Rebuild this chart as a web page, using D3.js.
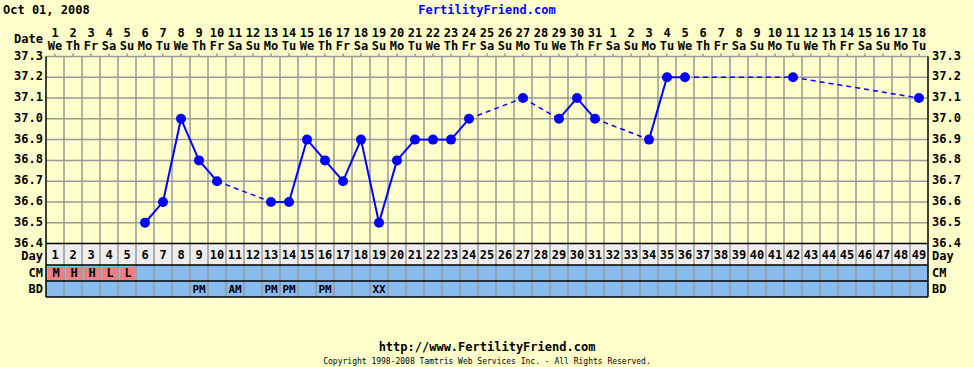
<!DOCTYPE html>
<html>
<head>
<meta charset="utf-8">
<script src="https://cdn.jsdelivr.net/npm/d3@7"></script>
<style>
  body { margin: 0; background: #ffffcc; }
  svg text { font-family: "DejaVu Sans Mono", monospace; font-weight: bold; }
</style>
</head>
<body>
<div id="chart_div"></div>
<script>
// cycle days, calendar labels
const cycleDays = d3.range(1, 50);
const dateNums = ["1","2","3","4","5","6","7","8","9","10","11","12","13","14","15","16","17","18","19","20","21","22","23","24","25","26","27","28","29","30","31",
                  "1","2","3","4","5","6","7","8","9","10","11","12","13","14","15","16","17","18"];
const dayNames = ["We","Th","Fr","Sa","Su","Mo","Tu","We","Th","Fr","Sa","Su","Mo","Tu","We","Th","Fr","Sa","Su","Mo","Tu","We","Th","Fr","Sa","Su","Mo","Tu","We","Th","Fr",
                  "Sa","Su","Mo","Tu","We","Th","Fr","Sa","Su","Mo","Tu","We","Th","Fr","Sa","Su","Mo","Tu"];
// temperature readings
const tempDays = [6, 7, 8, 9, 10, 13, 14, 15, 16, 17, 18, 19, 20, 21, 22, 23, 24, 27, 29, 30, 31, 34, 35, 36, 42, 49];
const tempValues = [36.5, 36.6, 37.0, 36.8, 36.7, 36.6, 36.6, 36.9, 36.8, 36.7, 36.9, 36.5, 36.8, 36.9, 36.9, 36.9, 37.0, 37.1, 37.0, 37.1, 37.0, 36.9, 37.2, 37.2, 37.2, 37.1];
const tempTicks = [36.4, 36.5, 36.6, 36.7, 36.8, 36.9, 37.0, 37.1, 37.2, 37.3];
// cervical mucus and BD rows
const cmDays = [1, 2, 3, 4, 5];
const cmValues = ["M", "H", "H", "L", "L"];
const bdDays = [9, 11, 13, 14, 16, 19];
const bdValues = ["PM", "AM", "PM", "PM", "PM", "XX"];

const width = 974, height = 367;
const left = 46, right = 928;
const plotTop = 56.5, plotBottom = 243.5;
const dayRowBottom = 265, cmRowBottom = 281, bdRowBottom = 297;

const svg = d3.select("#chart_div")
    .append("svg")
    .attr("width", width)
    .attr("height", height);

svg.append("rect").attr("width", width).attr("height", height).attr("fill", "#ffffcc");

let xScale = d3.scaleBand()
            .domain(cycleDays)
            .range([left, right]);
const colW = xScale.bandwidth();
const xc = d => xScale(d) + colW / 2;

let yScale = d3.scaleLinear()
            .domain([36.4, 37.3])
            .range([plotBottom, plotTop]);

// header
svg.append("text").attr("x", 3).attr("y", 14).attr("font-size", 12).attr("fill", "#000").text("Oct 01, 2008");
svg.append("text").attr("x", 487).attr("y", 14).attr("text-anchor", "middle").attr("font-size", 12)
    .attr("fill", "#0000ff").text("FertilityFriend.com");

svg.append("text").attr("x", 43).attr("y", 43).attr("text-anchor", "end").attr("font-size", 12).text("Date");

const dateG = svg.append("g");
dateG.selectAll(".num").data(cycleDays).join("text")
    .attr("x", d => xc(d)).attr("y", 37)
    .attr("text-anchor", "middle").attr("font-size", 12)
    .text((d, i) => dateNums[i]);
dateG.selectAll(".dn").data(cycleDays).join("text")
    .attr("x", d => xc(d)).attr("y", 50)
    .attr("text-anchor", "middle").attr("font-size", 12)
    .text((d, i) => dayNames[i]);

// row backgrounds
svg.append("rect").attr("x", left).attr("y", plotBottom).attr("width", right - left)
    .attr("height", dayRowBottom - plotBottom).attr("fill", "#eeeeee");
svg.append("rect").attr("x", left).attr("y", dayRowBottom).attr("width", right - left)
    .attr("height", bdRowBottom - dayRowBottom).attr("fill", "#88bbee");

// CM cells
svg.selectAll(".cm").data(cmDays).join("rect")
    .attr("x", d => xScale(d) + 2).attr("y", dayRowBottom + 2)
    .attr("width", colW - 3).attr("height", cmRowBottom - dayRowBottom - 3)
    .attr("fill", "#f08080");

// grid
const grid = svg.append("g").attr("stroke", "#999999").attr("stroke-width", 1.5);
grid.selectAll(".h").data(tempTicks.slice(1)).join("line")
    .attr("x1", left).attr("x2", right)
    .attr("y1", d => yScale(d)).attr("y2", d => yScale(d));
grid.selectAll(".v").data(cycleDays.slice(1)).join("line")
    .attr("x1", d => xScale(d)).attr("x2", d => xScale(d))
    .attr("y1", plotTop).attr("y2", bdRowBottom);
// top tick stubs
grid.selectAll(".t").data(cycleDays).join("line")
    .attr("x1", d => xc(d)).attr("x2", d => xc(d))
    .attr("y1", plotTop - 3).attr("y2", plotTop);

// borders
const border = svg.append("g").attr("stroke", "#000").attr("stroke-width", 1.5);
[plotBottom, dayRowBottom, cmRowBottom, bdRowBottom].forEach(y => {
    border.append("line").attr("x1", left).attr("x2", right).attr("y1", y).attr("y2", y);
});
border.append("line").attr("x1", left).attr("x2", left).attr("y1", plotTop).attr("y2", bdRowBottom);
border.append("line").attr("x1", right).attr("x2", right).attr("y1", plotTop).attr("y2", bdRowBottom);

// temperature labels
const fmt = d3.format(".1f");
svg.selectAll(".yl").data(tempTicks).join("text")
    .attr("x", 43).attr("y", d => yScale(d) + 3)
    .attr("text-anchor", "end").attr("font-size", 12)
    .text(d => fmt(d));
svg.selectAll(".yr").data(tempTicks).join("text")
    .attr("x", 932).attr("y", d => yScale(d) + 3)
    .attr("font-size", 12)
    .text(d => fmt(d));

// row labels
const rowLabels = [["Day", 260], ["CM", 277], ["BD", 293]];
rowLabels.forEach(([t, y]) => {
    svg.append("text").attr("x", 43).attr("y", y).attr("text-anchor", "end").attr("font-size", 12).text(t);
    svg.append("text").attr("x", 932).attr("y", y).attr("font-size", 12).text(t);
});

// day numbers
svg.selectAll(".dnum").data(cycleDays).join("text")
    .attr("x", d => xc(d)).attr("y", 259)
    .attr("text-anchor", "middle").attr("font-size", 12)
    .text(d => d);

svg.selectAll(".cmt").data(cmDays).join("text")
    .attr("x", d => xc(d) + 1).attr("y", 277)
    .attr("text-anchor", "middle").attr("font-size", 12)
    .text((d, i) => cmValues[i]);
svg.selectAll(".bdt").data(bdDays).join("text")
    .attr("x", d => xc(d)).attr("y", 293)
    .attr("text-anchor", "middle").attr("font-size", 11)
    .text((d, i) => bdValues[i]);

// temperature line, dashed across missing days
const pts = tempDays.map((d, i) => ({day: d, t: tempValues[i]}));
const lineG = svg.append("g");
for (let i = 1; i < pts.length; i++) {
    const a = pts[i - 1], b = pts[i];
    const gap = b.day - a.day > 1;
    lineG.append("line")
        .attr("x1", xc(a.day)).attr("y1", yScale(a.t))
        .attr("x2", xc(b.day)).attr("y2", yScale(b.t))
        .attr("stroke", "#0000ff")
        .attr("stroke-width", gap ? 1.5 : 2)
        .attr("stroke-dasharray", gap ? "5,4" : null);
}
lineG.selectAll("circle").data(pts).join("circle")
    .attr("cx", d => xc(d.day)).attr("cy", d => yScale(d.t))
    .attr("r", 5).attr("fill", "#0000ff");

// footer
svg.append("text").attr("x", 487).attr("y", 351).attr("text-anchor", "middle").attr("font-size", 12)
    .text("http://www.FertilityFriend.com");
svg.append("text").attr("x", 487).attr("y", 364).attr("text-anchor", "middle").attr("font-size", 8)
    .style("font-weight", "normal")
    .text("Copyright 1998-2008 Tamtris Web Services Inc. - All Rights Reserved.");
</script>
</body>
</html>
